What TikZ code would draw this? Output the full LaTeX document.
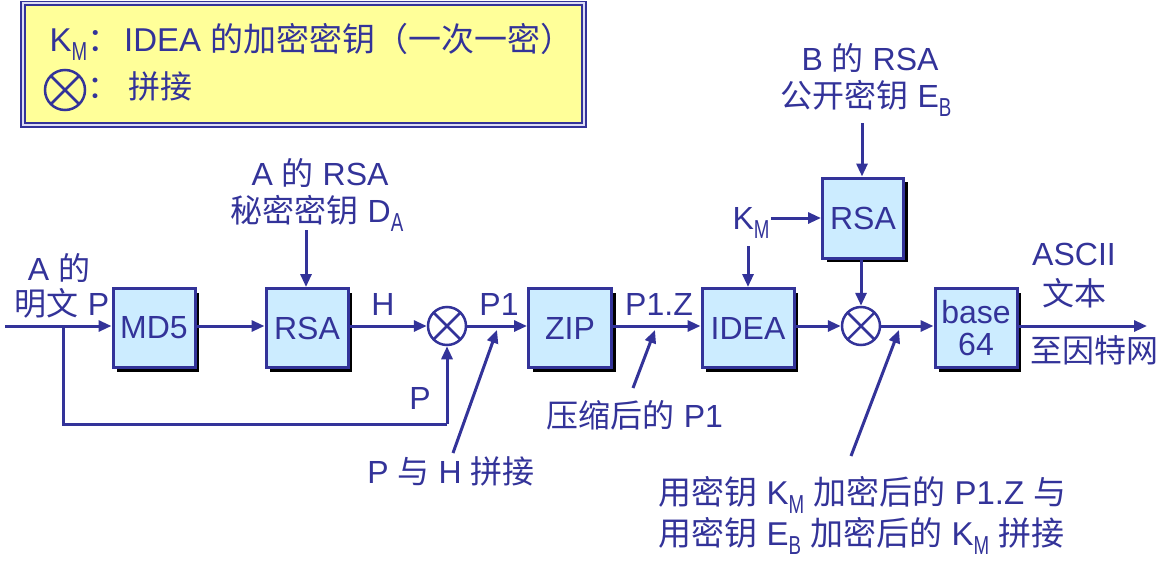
\documentclass[tikz,border=0pt]{standalone}
\usepackage{fontspec}
\usepackage{graphicx}
\setmainfont{Liberation Sans}
\newfontfamily\cjk{Noto Sans CJK SC}
\usetikzlibrary{arrows.meta,shadows}
\definecolor{navy}{HTML}{333399}
\definecolor{boxblue}{HTML}{CCECFF}
\definecolor{legendyellow}{HTML}{FFFF99}
\definecolor{lav}{HTML}{DDDDF5}
\newcommand\zh[1]{{\cjk #1}}
\newcommand\subsc[1]{\raisebox{-0.3em}{\scalebox{0.72}[1]{\fontsize{26}{26}\selectfont #1}}}
\begin{document}
\begin{tikzpicture}[x=1pt,y=-1pt,line width=3pt,draw=navy,text=navy,
  font=\fontsize{32}{38}\selectfont,
  blk/.style={draw=navy,fill=boxblue,minimum width=82pt,minimum height=79pt,inner sep=0pt,
    drop shadow={shadow xshift=4pt,shadow yshift=-4pt,opacity=1,fill=black}},
  arr/.style={-{Triangle[length=13pt,width=11pt]},navy},
  ln/.style={navy},
  cat/.style={circle,draw=navy,line width=2.5pt,minimum size=38pt,inner sep=0pt,
    path picture={\draw[navy,line width=2.5pt]
      (path picture bounding box.south west) -- (path picture bounding box.north east)
      (path picture bounding box.north west) -- (path picture bounding box.south east);}},
  lbl/.style={inner sep=0pt,anchor=base}
]
\useasboundingbox (0,0) rectangle (1174,562);
% legend
\draw[navy,line width=1.5pt,fill=lav] (21,1.5) rectangle (586,127);
\draw[navy,line width=1.5pt,fill=legendyellow] (25,5) rectangle (582,123);
\node[lbl,anchor=base west,font=\fontsize{33}{38}\selectfont] (leg1) at (48,51)
  {K\subsc{M}\zh{：}\kern4pt IDEA \zh{的加密密钥（一次一密）}};
\node[cat,minimum size=40pt] (legc) at (65,90) {};
\node[lbl,anchor=base west] (leg2a) at (86,98) {\zh{：}};
\node[lbl,anchor=base west] (leg2b) at (127,98) {\zh{拼接}};
% blocks
\node[blk] (md5) at (154,328) {MD5};
\node[blk] (rsa1) at (307,328) {RSA};
\node[cat] (c1) at (447,326) {};
\node[blk,minimum width=83pt] (zip) at (570,328) {ZIP};
\node[blk,minimum width=92pt] (idea) at (748,328) {IDEA};
\node[blk,minimum width=81pt,minimum height=80pt] (rsa2) at (863,218) {RSA};
\node[cat] (c2) at (861,326) {};
\node[blk,align=center,font=\fontsize{32}{32}\selectfont] (b64) at (976,328) {base\\64};
% labels
\node[lbl] (la1) at (59,280) {A \zh{的}};
\node[lbl] (la2) at (62,315) {\zh{明文} P};
\node[lbl] (ka1) at (320,185) {A \zh{的} RSA};
\node[lbl] (ka2) at (317,222) {\zh{秘密密钥} D\subsc{A}};
\node[lbl] (lh) at (383,315) {H};
\node[lbl] (lp1) at (499,315) {P1};
\node[lbl] (lp) at (420,409) {P};
\node[lbl] (lph) at (451,483) {P \zh{与} H \zh{拼接}};
\node[lbl] (lpz) at (659,315) {P1.Z};
\node[lbl] (lzip) at (635,427) {\zh{压缩后的} P1};
\node[lbl] (kb1) at (870,70) {B \zh{的} RSA};
\node[lbl] (kb2) at (866,107) {\zh{公开密钥} E\subsc{B}};
\node[lbl] (km) at (751,229) {K\subsc{M}};
\node[lbl] (asc1) at (1074,265) {ASCII};
\node[lbl] (asc2) at (1074,305) {\zh{文本}};
\node[lbl] (net) at (1094,362) {\zh{至因特网}};
\node[lbl,anchor=base west,font=\fontsize{33}{38}\selectfont] (bot1) at (657,504) {\zh{用密钥} K\subsc{M} \zh{加密后的} P1.Z \zh{与}};
\node[lbl,anchor=base west,font=\fontsize{33}{38}\selectfont] (bot2) at (657,545) {\zh{用密钥} E\subsc{B} \zh{加密后的} K\subsc{M} \zh{拼接}};
% coordinates
\coordinate (in) at (5,326);
\coordinate (br) at (63,326);
\coordinate (fb1) at (63,424);
\coordinate (fb2) at (447,424);
\coordinate (ktop) at (306,230);
\coordinate (btop) at (862,123);
\coordinate (out) at (1147,326);
\coordinate (d1s) at (453,453);
\coordinate (d1e) at (497,330);
\coordinate (d2s) at (633,388);
\coordinate (d2e) at (655,330);
\coordinate (d3s) at (851,456);
\coordinate (d3e) at (899,330);
% connectors
\draw[arr] (in) -- (md5.west |- in);
\draw[arr] (md5.east |- in) -- (rsa1.west |- in);
\draw[arr] (rsa1.east |- in) -- (c1.west);
\draw[arr] (c1.east) -- (zip.west |- in);
\draw[ln] (br) -- (fb1) -- (fb2);
\draw[arr] (fb2) -- (c1.south);
\draw[arr] (ktop) -- (rsa1.north -| ktop);
\draw[arr] (zip.east |- in) -- (idea.west |- in);
\draw[arr] (idea.east |- in) -- (c2.west);
\draw[arr] (c2.east) -- (b64.west |- in);
\draw[arr] (b64.east |- in) -- (out);
\draw[arr] (btop) -- (rsa2.north -| btop);
\draw[arr] (rsa2.south -| c2.north) -- (c2.north);
\draw[arr] (km.east |- rsa2.west) -- (rsa2.west);
\draw[arr] (idea.north |- km.south) ++(0,6) -- (idea.north);
\draw[arr] (d1s) -- (d1e);
\draw[arr] (d2s) -- (d2e);
\draw[arr] (d3s) -- (d3e);
\end{tikzpicture}
\end{document}
